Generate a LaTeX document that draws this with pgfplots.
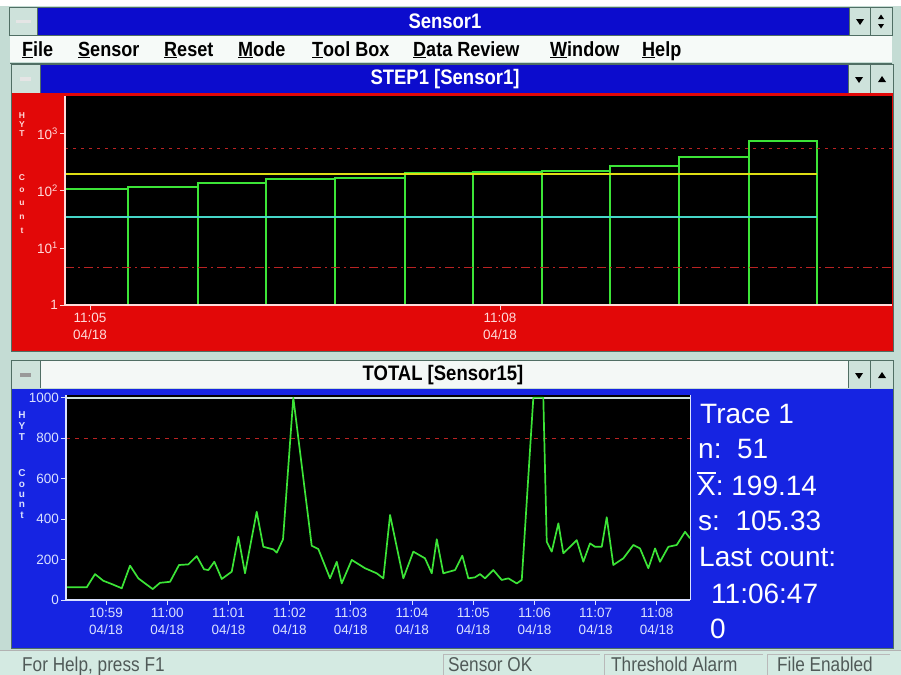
\documentclass[border=0pt]{standalone}
\usepackage{pgfplots}
\pgfplotsset{compat=1.18}
\usepackage{fontspec}
\setmainfont{Liberation Sans}
\newfontfamily\wfont[FakeStretch=0.88]{Liberation Sans}
\newfontfamily\sfont[FakeStretch=0.86]{Liberation Sans}
\definecolor{winblue}{RGB}{12,12,205}
\definecolor{framec}{RGB}{196,220,212}
\definecolor{framedark}{RGB}{80,110,100}
\definecolor{statusbg}{RGB}{212,234,226}
\definecolor{btn}{RGB}{206,226,219}
\definecolor{panelred}{RGB}{226,8,8}
\definecolor{panelblue}{RGB}{22,36,226}
\definecolor{trgreen}{RGB}{60,228,55}
\definecolor{tryellow}{RGB}{222,222,20}
\definecolor{trcyan}{RGB}{70,214,200}
\definecolor{thred}{RGB}{185,35,35}
\definecolor{limitc}{RGB}{205,226,218}
\definecolor{pinkw}{RGB}{255,218,218}
\definecolor{bluew}{RGB}{218,225,255}
\definecolor{menubg}{RGB}{246,250,248}
\definecolor{inactive}{RGB}{244,248,246}
\definecolor{stattext}{RGB}{80,90,88}
\newcommand{\tl}[2]{\mbox{#1}\\\mbox{#2}}
\pgfplotsset{
  hmi/.style={
    scale only axis, axis on top,
    axis x line=bottom, axis y line=left,
    axis line style={-, line width=1.2bp},
    x axis line style={-}, y axis line style={-},
    tick align=outside, major tick length=5bp,
    tick style={line width=1bp},
    axis background/.style={fill=black},
    /pgf/number format/assume math mode=true,
    /pgf/number format/1000 sep={},
    xticklabel style={align=center, font=\fontsize{13.5bp}{17bp}\selectfont, inner sep=2.5bp},
    yticklabel style={font=\fontsize{13.5bp}{15bp}\selectfont, inner sep=2bp},
    xminorticks=false, yminorticks=false,
  }
}
\begin{document}
\begin{tikzpicture}
\useasboundingbox (0,0) rectangle (901bp,-675bp);
\begin{scope}[x=1bp,y=-1bp]
  \fill[framec] (0,0) rectangle (901,675);
  \fill[white] (0,0) rectangle (901,6);
  % ---------- main title bar
  \fill[winblue] (10,8) rectangle (892,35);
  \fill[btn] (10,8) rectangle (37,35);
  \fill[white!80!gray] (16,19.5) rectangle (31,23);
  \fill[btn] (850,8) rectangle (870,35);
  \fill[btn] (871,8) rectangle (892,35);
  \draw[framedark] (9.5,7.5) rectangle (892.5,35.5);
  \draw[framedark] (37.5,8) -- (37.5,35) (849.5,8) -- (849.5,35) (870.5,8) -- (870.5,35);
  \fill[black] (856,19) -- (864,19) -- (860,25) -- cycle;
  \fill[black] (878,19) -- (884,19) -- (881,14.5) -- cycle;
  \fill[black] (878,24) -- (884,24) -- (881,28.5) -- cycle;
  \node[text=white, font=\wfont\bfseries\fontsize{21bp}{24bp}\selectfont] at (445,21.5) {Sensor1};
  % ---------- menu bar
  \fill[menubg] (10,36) rectangle (892,62);
  \draw[framedark] (10,63) -- (892,63);
  \begin{scope}[every node/.style={anchor=base west, inner sep=0pt, font=\wfont\bfseries\fontsize{20.5bp}{24bp}\selectfont}]
    \node at (22,56) {\underline{F}ile};
    \node at (78,56) {\underline{S}ensor};
    \node at (164,56) {\underline{R}eset};
    \node at (238,56) {\underline{M}ode};
    \node at (312,56) {\underline{T}ool Box};
    \node at (413,56) {\underline{D}ata Review};
    \node at (550,56) {\underline{W}indow};
    \node at (642,56) {\underline{H}elp};
  \end{scope}
  % ---------- STEP1 window
  \fill[winblue] (12,65) rectangle (893,93);
  \fill[btn] (12,65) rectangle (40,93);
  \fill[white!80!gray] (20,77) rectangle (31,81);
  \fill[btn] (849,65) rectangle (870,93);
  \fill[btn] (871,65) rectangle (893,93);
  \draw[framedark] (40.5,65) -- (40.5,93) (848.5,65) -- (848.5,93) (870.5,65) -- (870.5,93);
  \fill[black] (855,77) -- (863,77) -- (859,83) -- cycle;
  \fill[black] (878,82) -- (886,82) -- (882,76) -- cycle;
  \node[text=white, font=\wfont\bfseries\fontsize{21bp}{24bp}\selectfont] at (445,79.5) {STEP1 [Sensor1]};
  \fill[panelred] (12,93) rectangle (893,351);
  \draw[framedark] (11.5,64.5) rectangle (893.5,351.5);
  \foreach \ch/\yy in {H/116,Y/125,T/134,C/178,o/190,u/203,n/217,t/231}
    \node[text=pinkw, font=\bfseries\fontsize{8.5bp}{9bp}\selectfont, inner sep=0pt] at (22,\yy) {\ch};
  % ---------- TOTAL window
  \fill[inactive] (12,361) rectangle (893,388);
  \fill[btn] (12,361) rectangle (40,388);
  \fill[gray!80] (20,373) rectangle (31,377);
  \fill[btn] (849,361) rectangle (870,388);
  \fill[btn] (871,361) rectangle (893,388);
  \draw[framedark] (40.5,361) -- (40.5,388) (848.5,361) -- (848.5,388) (870.5,361) -- (870.5,388);
  \fill[black] (855,373) -- (863,373) -- (859,379) -- cycle;
  \fill[black] (878,378) -- (886,378) -- (882,372) -- cycle;
  \node[text=black, font=\wfont\bfseries\fontsize{21bp}{24bp}\selectfont] at (443,375.5) {TOTAL [Sensor15]};
  \fill[panelblue] (12,389) rectangle (893,648);
  \draw[framedark] (11.5,360.5) rectangle (893.5,648.5);
  \draw[bluew, line width=1bp] (690.5,395) -- (690.5,600);
  \foreach \ch/\yy in {H/415,Y/426,T/437,C/473.5,o/484.5,u/494.5,n/505,t/515}
    \node[text=bluew, font=\bfseries\fontsize{10bp}{11bp}\selectfont, inner sep=0pt] at (22,\yy) {\ch};
  % stats
  \begin{scope}[every node/.style={anchor=base west, inner sep=0pt, text=white, font=\fontsize{28bp}{32bp}\selectfont}]
    \node at (700,423) {Trace 1};
    \node at (698,458) {n:\ \ 51};
    \node at (697,495) {\makebox[0pt][l]{\rule[21.5bp]{18.5bp}{2bp}}X:\ 199.14};
    \node at (698,530) {s:\ \ 105.33};
    \node at (699,566.5) {Last count:};
    \node at (711,603) {11:06:47};
    \node at (710,638) {0};
  \end{scope}
  % ---------- status bar
  \fill[statusbg] (0,651) rectangle (901,675);
  \draw[gray!60] (0,650.5) -- (901,650.5);
  \draw[gray!55] (443,654) -- (443,675) (604,654) -- (604,675) (767,654) -- (767,675);
  \draw[gray!55] (443,654) -- (600,654) (604,654) -- (763,654) (767,654) -- (890,654);
  \begin{scope}[every node/.style={anchor=base west, inner sep=0pt, text=stattext, font=\sfont\fontsize{20bp}{22bp}\selectfont}]
    \node at (22,671) {For Help, press F1};
    \node at (448,671) {Sensor OK};
    \node at (611,671) {Threshold Alarm};
    \node at (777,671) {File Enabled};
  \end{scope}
\end{scope}

% ================= STEP1 chart (log)
\begin{axis}[hmi,
  at={(65bp,-305bp)}, anchor=south west,
  width=827bp, height=209bp,
  ymode=log, ymin=1, ymax=4640,
  xmin=-0.183, xmax=5.868,
  axis line style={draw=pinkw},
  tick style={draw=pinkw},
  tick label style={text=pinkw},
  xtick={0,3},
  xticklabels={{\tl{11:05}{04/18}},{\tl{11:08}{04/18}}},
  ytick={1,10,100,1000},
  yticklabels={\mbox{1},\mbox{10\textsuperscript{1}},\mbox{10\textsuperscript{2}},\mbox{10\textsuperscript{3}}},
]
\addplot[ybar interval, draw=trgreen, fill=none, line width=1.8bp] coordinates {
  (-0.222,108) (0.278,116) (0.790,137) (1.288,160) (1.792,167) (2.305,206)
  (2.802,212) (3.307,225) (3.804,275) (4.309,400) (4.821,765) (5.319,765)};
\addplot[tryellow, line width=1.8bp] coordinates {(-0.183,201) (5.319,201)};
\addplot[trcyan, line width=1.6bp] coordinates {(-0.183,35.4) (5.319,35.4)};
\addplot[thred, line width=1.2bp, dash pattern=on 3bp off 5bp] coordinates {(-0.183,562) (5.868,562)};
\addplot[thred, line width=1.2bp, dash pattern=on 9bp off 4bp on 2bp off 4bp] coordinates {(-0.183,4.6) (5.868,4.6)};
\end{axis}

% ================= TOTAL chart
\begin{axis}[hmi,
  at={(66bp,-600bp)}, anchor=south west,
  width=624bp, height=205bp,
  xmin=-0.654, xmax=9.542, ymin=0, ymax=1013,
  axis line style={draw=bluew},
  tick style={draw=bluew},
  tick label style={text=bluew},
  xtick={0,1,2,3,4,5,6,7,8,9},
  xticklabels={{\tl{10:59}{04/18}},{\tl{11:00}{04/18}},{\tl{11:01}{04/18}},{\tl{11:02}{04/18}},{\tl{11:03}{04/18}},
               {\tl{11:04}{04/18}},{\tl{11:05}{04/18}},{\tl{11:06}{04/18}},{\tl{11:07}{04/18}},{\tl{11:08}{04/18}}},
  ytick={0,200,400,600,800,1000},
]
\addplot[limitc, line width=2bp] coordinates {(-0.654,1000) (9.542,1000)};
\addplot[thred, line width=1.2bp, dash pattern=on 4bp off 5bp] coordinates {(-0.654,800) (9.542,800)};
\addplot[trgreen, line width=1.7bp, line join=round] coordinates {
  (-0.654,63) (-0.315,63) (-0.180,128) (-0.044,95) (0.093,79) (0.257,58)
  (0.392,170) (0.528,107) (0.763,54) (0.882,85) (1.046,90) (1.193,173)
  (1.345,176) (1.482,217) (1.601,152) (1.672,148) (1.770,189) (1.891,104)
  (2.054,140) (2.162,313) (2.271,132) (2.462,436) (2.570,263) (2.734,250)
  (2.790,234) (2.892,300) (3.060,1000) (3.361,268) (3.469,252) (3.660,107)
  (3.770,189) (3.851,82) (4.015,198) (4.232,157) (4.423,132) (4.531,107)
  (4.641,420) (4.858,107) (5.021,239) (5.212,206) (5.322,132) (5.404,300)
  (5.511,132) (5.703,148) (5.822,219) (5.920,107) (6.029,112) (6.111,128)
  (6.193,107) (6.328,148) (6.466,99) (6.574,107) (6.711,82) (6.793,99)
  (6.982,1000) (7.145,1000) (7.201,288) (7.283,239) (7.391,379) (7.472,231)
  (7.582,263) (7.691,296) (7.799,189) (7.908,280) (7.990,263) (8.100,263)
  (8.181,409) (8.289,173) (8.453,206) (8.616,272) (8.725,255) (8.861,157)
  (8.971,255) (9.052,189) (9.188,263) (9.325,272) (9.461,337) (9.542,305)};
\end{axis}
\end{tikzpicture}
\end{document}
